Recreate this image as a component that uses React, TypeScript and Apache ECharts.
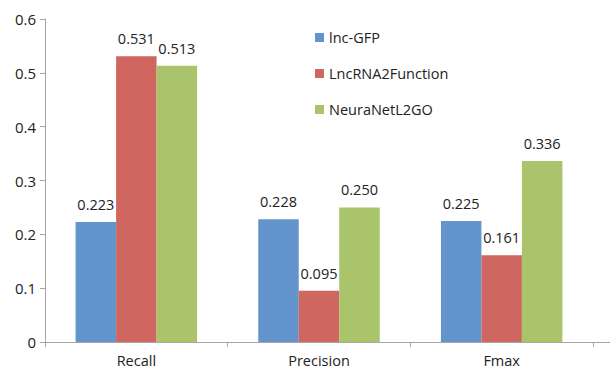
import React, { useEffect, useRef } from "react";
import * as echarts from "echarts";

const categories = ["Recall", "Precision", "Fmax"];
const seriesNames = ["lnc-GFP", "LncRNA2Function", "NeuraNetL2GO"];
const lncGFP = [0.223, 0.228, 0.225];
const lncRNA2Function = [0.531, 0.095, 0.161];
const neuraNetL2GO = [0.513, 0.25, 0.336];
const colors = ["#6395CC", "#CF665F", "#AAC46B"];

export default function App() {
  const ref = useRef<HTMLDivElement>(null);
  useEffect(() => {
    if (!ref.current) return;
    const chart = echarts.init(ref.current, undefined, { renderer: "svg" });
    const font = "Open Sans";
    const values = [lncGFP, lncRNA2Function, neuraNetL2GO];
    chart.setOption({
      animation: false,
      backgroundColor: "#ffffff",
      textStyle: { fontFamily: font },
      grid: { left: 45, right: 17, top: 19, bottom: 30 },
      graphic: [
        {
          type: "line",
          shape: { x1: 593, y1: 342.5, x2: 610, y2: 342.5 },
          style: { stroke: "#a6a6a6", lineWidth: 1 },
        },
      ],
      legend: {
        orient: "vertical",
        left: 310,
        top: 25,
        itemWidth: 9,
        itemHeight: 9,
        itemGap: 21,
        icon: "rect",
        textStyle: { fontFamily: font, fontSize: 14.5, color: "#222" },
        data: seriesNames,
      },
      xAxis: {
        type: "category",
        data: categories,
        axisLine: { lineStyle: { color: "#a6a6a6" } },
        axisTick: { show: true, length: 5, lineStyle: { color: "#a6a6a6" } },
        axisLabel: { fontFamily: font, fontSize: 14.5, color: "#222", margin: 11 },
      },
      yAxis: {
        type: "value",
        min: 0,
        max: 0.6,
        interval: 0.1,
        splitLine: { show: false },
        axisLine: { show: true, lineStyle: { color: "#a6a6a6" } },
        axisTick: { show: true, length: 5, lineStyle: { color: "#a6a6a6" } },
        axisLabel: {
          fontFamily: font,
          fontSize: 15,
          color: "#222",
          margin: 9,
          formatter: (v: number) => (v === 0 ? "0" : v.toFixed(1)),
        },
      },
      series: seriesNames.map((name, i) => ({
        name,
        type: "bar",
        data: values[i],
        barGap: "0%",
        barCategoryGap: "33.5%",
        itemStyle: { color: colors[i] },
        label: {
          show: true,
          position: "top",
          distance: 10,
          fontFamily: font,
          fontSize: 14.5,
          color: "#222",
          formatter: (p: any) => p.value.toFixed(3),
        },
      })),
    });
    return () => chart.dispose();
  }, []);
  return (
    <div
      ref={ref}
      style={{ position: "fixed", left: 0, top: 0, width: 610, height: 372 }}
    />
  );
}
